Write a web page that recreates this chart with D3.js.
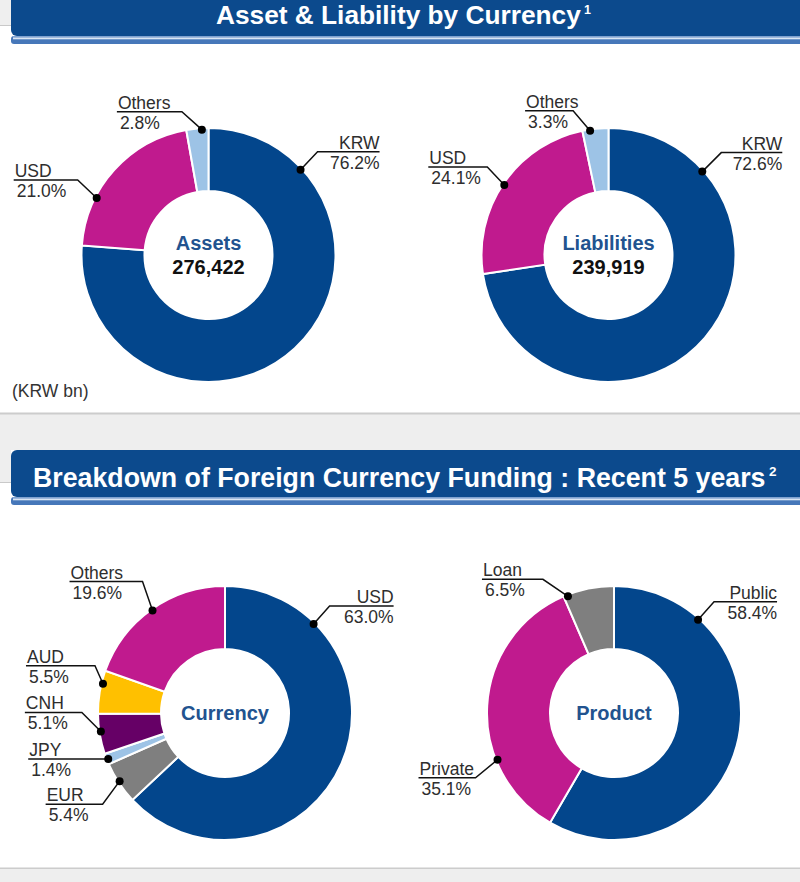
<!DOCTYPE html>
<html>
<head>
<meta charset="utf-8">
<script src="https://cdn.jsdelivr.net/npm/d3@7"></script>
<style>
body{margin:0;background:#fff}
svg{display:block;font-family:"Liberation Sans",Arial,Helvetica,sans-serif}
</style>
</head>
<body>
<svg id="svg" width="800" height="882"></svg>
<script>
// data
let assetCats = ["KRW","USD","Others"];
let assetVals = [76.2,21.0,2.8];
let assetTotal = 276422;

let liabCats = ["KRW","USD","Others"];
let liabVals = [72.6,24.1,3.3];
let liabTotal = 239919;

let currencyCats = ["USD","EUR","JPY","CNH","AUD","Others"];
let currencyVals = [63.0,5.4,1.4,5.1,5.5,19.6];

let productCats = ["Public","Private","Loan"];
let productVals = [58.4,35.1,6.5];

let title1 = "Asset & Liability by Currency";
let title2 = "Breakdown of Foreign Currency Funding : Recent 5 years";
let unitNote = "(KRW bn)";

// colours
let navy = "#0c4a8d";
let colBlue = "#03468c", colMag = "#c01a8e", colLight = "#9dc3e6",
    colGray = "#7f7f7f", colGold = "#ffc000", colPurple = "#660066";

let R = 127, r = 64;
let svg = d3.select("#svg");

// background panels
svg.append("rect").attr("x",0).attr("y",0).attr("width",11).attr("height",25).attr("fill","#efefef");
svg.append("line").attr("x1",0).attr("x2",11).attr("y1",25.5).attr("y2",25.5).attr("stroke","#c9c9c9");
svg.append("rect").attr("x",0).attr("y",414).attr("width",800).attr("height",36).attr("fill","#eeeeee");
svg.append("rect").attr("x",0).attr("y",450).attr("width",11).attr("height",32).attr("fill","#eeeeee");
svg.append("line").attr("x1",0).attr("x2",800).attr("y1",413.5).attr("y2",413.5).attr("stroke","#cccccc").attr("stroke-width",2);
svg.append("line").attr("x1",0).attr("x2",11).attr("y1",482.5).attr("y2",482.5).attr("stroke","#c9c9c9");
svg.append("line").attr("x1",0).attr("x2",800).attr("y1",868.5).attr("y2",868.5).attr("stroke","#cccccc").attr("stroke-width",2);
svg.append("rect").attr("x",0).attr("y",869).attr("width",800).attr("height",13).attr("fill","#eeeeee");

function drawHeader(top, bottom, txt, sup, x0, x1, size, base){
    let g = svg.append("g");
    g.append("rect").attr("x",11).attr("y",top).attr("width",800).attr("height",bottom-top)
        .attr("rx",6).attr("fill",navy);
    g.append("rect").attr("x",11).attr("y",bottom).attr("width",800).attr("height",8)
        .attr("rx",3).attr("fill","#4677b9");
    g.append("rect").attr("x",13).attr("y",bottom).attr("width",800).attr("height",1.5).attr("fill","#7fa2d0");
    g.append("rect").attr("x",13).attr("y",bottom+1.5).attr("width",800).attr("height",1.8).attr("fill","#dbe6f3");
    // condensed look: squeeze the title horizontally to the width seen in the picture
    let t = g.append("text").attr("x",0).attr("y",0)
        .attr("font-size",size).attr("font-weight","bold").attr("fill","#fff")
        .text(txt);
    let w = t.node().getComputedTextLength();
    t.attr("transform","translate("+x0+","+base+") scale("+((x1-x0)/w)+",1)");
    g.append("text").attr("x",x1+3).attr("y",base-size*0.42)
        .attr("font-size",size*0.5).attr("font-weight","bold").attr("fill","#fff")
        .text(sup);
}

drawHeader(-10, 36, title1, "1", 216, 581, 25, 24);
drawHeader(450, 497, title2, "2", 33, 766, 27, 487);

svg.append("text").attr("x",12).attr("y",397).attr("font-size",17.5).attr("fill","#333").text(unitNote);

// label layout: t = position of dot along slice, ex/ey = elbow offset, len = underline length
function renderDonut(cx, cy, cats, vals, colors, centerTitle, centerNum, layout){
    let pie = d3.pie().sort(null).value(function(d){ return d });
    let arc = d3.arc().innerRadius(r).outerRadius(R);
    let slices = pie(vals);

    let graph = svg.append("g").attr("transform","translate("+cx+","+cy+")");

    graph.append("g")
        .selectAll("path")
        .data(slices)
        .enter()
        .append("path")
        .attr("d", arc)
        .attr("fill", function(d,i){ return colors[i] })
        .attr("stroke","#fff")
        .attr("stroke-width",2);

    graph.append("g")
        .selectAll("g")
        .data(slices)
        .enter()
        .append("g")
        .each(function(d,i){
            let L = layout[i];
            let a = d.startAngle + L.t*(d.endAngle-d.startAngle);
            let p = d3.pointRadial(a, R-1.5);
            let ex = p[0]+L.ex, ey = p[1]+L.ey;
            let endX = ex + L.len;
            let g = d3.select(this);
            g.append("polyline")
                .attr("points", [p, [ex,ey], [endX,ey]].map(function(q){ return q.join(",") }).join(" "))
                .attr("fill","none").attr("stroke","#111").attr("stroke-width",1.5);
            g.append("circle").attr("cx",p[0]).attr("cy",p[1]).attr("r",4).attr("fill","#000");
            let right = L.len > 0;
            let tx = right ? endX : endX + 1;
            let anchor = right ? "end" : "start";
            g.append("text").attr("x",tx).attr("y",ey-3)
                .attr("text-anchor",anchor).attr("font-size",17.5).attr("fill","#2e2e2e")
                .text(cats[i]);
            g.append("text").attr("x",tx + (right?0:2)).attr("y",ey+17)
                .attr("text-anchor",anchor).attr("font-size",17.5).attr("fill","#2e2e2e")
                .text(vals[i].toFixed(1)+"%");
        });

    if(centerNum !== null){
        graph.append("text").attr("y",-5).attr("text-anchor","middle")
            .attr("font-size",20).attr("font-weight","bold").attr("fill","#22538f")
            .text(centerTitle);
        graph.append("text").attr("y",19).attr("text-anchor","middle")
            .attr("font-size",20).attr("font-weight","bold").attr("fill","#111")
            .text(d3.format(",")(centerNum));
    } else {
        graph.append("text").attr("y",7).attr("text-anchor","middle")
            .attr("font-size",20).attr("font-weight","bold").attr("fill","#22538f")
            .text(centerTitle);
    }
}

renderDonut(208.5, 255, assetCats, assetVals, [colBlue,colMag,colLight], "Assets", assetTotal, [
    {t:0.172, ex:17, ey:-18, len:62},
    {t:0.30, ex:-19, ey:-18, len:-64},
    {t:0.70, ex:-20, ey:-18, len:-65}
]);

renderDonut(608.5, 255, liabCats, liabVals, [colBlue,colMag,colLight], "Liabilities", liabTotal, [
    {t:0.185, ex:19, ey:-19, len:61},
    {t:0.49, ex:-17, ey:-18, len:-59},
    {t:0.29, ex:-17, ey:-20, len:-48}
]);

renderDonut(225, 713, currencyCats, currencyVals, [colBlue,colGray,colLight,colPurple,colGold,colMag], "Currency", null, [
    {t:0.198, ex:16, ey:-18, len:64},
    {t:0.53, ex:-17, ey:23, len:-57},
    {t:0.45, ex:0, ey:0, len:-80},
    {t:0.56, ex:-19, ey:-19, len:-57},
    {t:0.70, ex:-8, ey:-18, len:-69},
    {t:0.50, ex:-10, ey:-29, len:-73}
]);

renderDonut(614, 713, productCats, productVals, [colBlue,colMag,colGray], "Product", null, [
    {t:0.20, ex:16, ey:-18, len:63},
    {t:0.30, ex:-22, ey:18, len:-57},
    {t:0.08, ex:-25, ey:-17, len:-61}
]);
</script>
</body>
</html>
